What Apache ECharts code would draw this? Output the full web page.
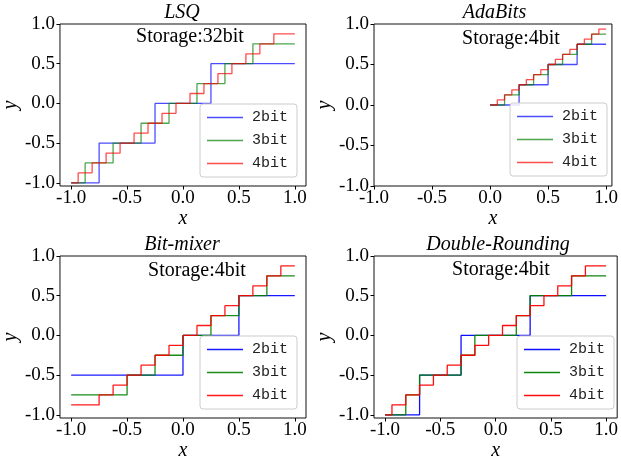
<!DOCTYPE html>
<html lang="en">
  <head>
    <meta charset="UTF-8" />
    <title>Quantizer step functions</title>
    <script src="https://cdn.jsdelivr.net/npm/echarts@6/dist/echarts.min.js"></script>
    <style>
      html, body { margin: 0; padding: 0; background: #fff; }
    </style>
  </head>
  <body>
    <div id="chart" style="width: 621px; height: 464px"></div>
    <script>
      // tick labels and texts
      const xTicks = [-1, -0.5, 0, 0.5, 1]
      const yTicks = [-1, -0.5, 0, 0.5, 1]
      const titles = ['LSQ', 'AdaBits', 'Bit-mixer', 'Double-Rounding']
      const storageTexts = ['Storage:32bit', 'Storage:4bit', 'Storage:4bit', 'Storage:4bit']
      const bitNames = ['2bit', '3bit', '4bit']

      // LSQ
      const lsq2X = [-1, -0.75, -0.25, 0.25, 1]
      const lsq2Y = [-1, -0.5, 0, 0.5, 0.5]
      const lsq3X = [-1, -0.875, -0.625, -0.375, -0.125, 0.125, 0.375, 0.625, 1]
      const lsq3Y = [-1, -0.75, -0.5, -0.25, 0, 0.25, 0.5, 0.75, 0.75]
      const lsq4X = [-1, -0.9375, -0.8125, -0.6875, -0.5625, -0.4375, -0.3125, -0.1875, -0.0625,
        0.0625, 0.1875, 0.3125, 0.4375, 0.5625, 0.6875, 0.8125, 1]
      const lsq4Y = [-1, -0.875, -0.75, -0.625, -0.5, -0.375, -0.25, -0.125, 0,
        0.125, 0.25, 0.375, 0.5, 0.625, 0.75, 0.875, 0.875]

      // AdaBits
      const ada2X = [0, 0.25, 0.5, 0.75, 1]
      const ada2Y = [0, 0.25, 0.5, 0.75, 0.75]
      const ada3X = [0, 0.125, 0.25, 0.375, 0.5, 0.625, 0.75, 0.875, 1]
      const ada3Y = [0, 0.125, 0.25, 0.375, 0.5, 0.625, 0.75, 0.875, 0.875]
      const ada4X = [0, 0.0625, 0.125, 0.1875, 0.25, 0.3125, 0.375, 0.4375, 0.5,
        0.5625, 0.625, 0.6875, 0.75, 0.8125, 0.875, 0.9375, 1]
      const ada4Y = [0, 0.0625, 0.125, 0.1875, 0.25, 0.3125, 0.375, 0.4375, 0.5,
        0.5625, 0.625, 0.6875, 0.75, 0.8125, 0.875, 0.9375, 0.9375]

      // Bit-mixer
      const mix2X = [-1, 0, 0.5, 1]
      const mix2Y = [-0.5, 0, 0.5, 0.5]
      const mix3X = [-1, -0.5, -0.25, 0, 0.25, 0.5, 0.75, 1]
      const mix3Y = [-0.75, -0.5, -0.25, 0, 0.25, 0.5, 0.75, 0.75]
      const mix4X = [-1, -0.75, -0.625, -0.5, -0.375, -0.25, -0.125, 0,
        0.125, 0.25, 0.375, 0.5, 0.625, 0.75, 0.875, 1]
      const mix4Y = [-0.875, -0.75, -0.625, -0.5, -0.375, -0.25, -0.125, 0,
        0.125, 0.25, 0.375, 0.5, 0.625, 0.75, 0.875, 0.875]

      // Double-Rounding
      const dr2X = [-1, -0.6875, -0.3125, 0.3125, 1]
      const dr2Y = [-1, -0.5, 0, 0.5, 0.5]
      const dr3X = [-1, -0.8125, -0.6875, -0.3125, -0.1875, 0.1875, 0.3125, 0.6875, 1]
      const dr3Y = [-1, -0.75, -0.5, -0.25, 0, 0.25, 0.5, 0.75, 0.75]
      const dr4X = [-1, -0.9375, -0.8125, -0.6875, -0.5625, -0.4375, -0.3125, -0.1875, -0.0625,
        0.0625, 0.1875, 0.3125, 0.4375, 0.5625, 0.6875, 0.8125, 1]
      const dr4Y = [-1, -0.875, -0.75, -0.625, -0.5, -0.375, -0.25, -0.125, 0,
        0.125, 0.25, 0.375, 0.5, 0.625, 0.75, 0.875, 0.875]

      const panels = [
        [[lsq2X, lsq2Y], [lsq3X, lsq3Y], [lsq4X, lsq4Y]],
        [[ada2X, ada2Y], [ada3X, ada3Y], [ada4X, ada4Y]],
        [[mix2X, mix2Y], [mix3X, mix3Y], [mix4X, mix4Y]],
        [[dr2X, dr2Y], [dr3X, dr3Y], [dr4X, dr4Y]],
      ]

      const colors = ['#0000ff', '#008000', '#ff0000']
      const serif = 'Liberation Serif'

      // layout of the 4 axes
      const grids = [
        { left: 58, top: 24, width: 248, height: 162 },
        { left: 374, top: 24, width: 241, height: 162 },
        { left: 58, top: 256, width: 248, height: 162 },
        { left: 374, top: 256, width: 248, height: 162 },
      ]
      const xLims = [[-1.1, 1.1], [-1.0, 1.05], [-1.1, 1.1], [-1.1, 1.1]]
      const yLims = [[-1.04, 1.0], [-1.0, 1.0], [-1.04, 1.0], [-1.04, 1.0]]
      const alphas = [0.7, 0.7, 0.9, 0.95]
      const storagePos = [[190, 27], [511, 29], [197, 261], [501, 260]]
      const legendPos = [[200, 104], [510, 103], [200, 336], [517, 336]]

      const chart = echarts.init(document.getElementById('chart'))

      const tickFont = { fontFamily: serif, fontSize: 19, color: '#000' }
      const nameFont = { fontFamily: serif, fontStyle: 'italic', fontSize: 20, color: '#000' }

      const option = {
        animation: false,
        title: [],
        grid: grids.map(g => ({
          ...g,
          show: true,
          borderColor: '#111',
          borderWidth: 1,
          backgroundColor: 'transparent',
        })),
        xAxis: grids.map((g, i) => ({
          type: 'value',
          gridIndex: i,
          min: xLims[i][0],
          max: xLims[i][1],
          name: 'x',
          nameLocation: 'middle',
          nameGap: 21,
          nameTextStyle: nameFont,
          splitLine: { show: false },
          axisLine: { show: false, onZero: false },
          axisTick: { show: true, customValues: xTicks, length: 3.5, lineStyle: { color: '#000' } },
          axisLabel: { customValues: xTicks, margin: 3, formatter: v => v.toFixed(1), ...tickFont },
        })),
        yAxis: grids.map((g, i) => ({
          type: 'value',
          gridIndex: i,
          min: yLims[i][0],
          max: yLims[i][1],
          name: 'y',
          nameLocation: 'middle',
          nameGap: 38,
          nameTextStyle: nameFont,
          splitLine: { show: false },
          axisLine: { show: false, onZero: false },
          axisTick: { show: true, customValues: yTicks, length: 3.5, lineStyle: { color: '#000' } },
          axisLabel: { customValues: yTicks, margin: 5, formatter: v => v.toFixed(1), ...tickFont },
        })),
        legend: legendPos.map((p, i) => ({
          left: p[0],
          top: p[1],
          orient: 'vertical',
          data: bitNames,
          selectedMode: false,
          icon: 'rect',
          itemWidth: 36,
          itemHeight: 1.5,
          itemGap: 8,
          itemStyle: { opacity: alphas[i] },
          padding: [6, 9, 6, 7],
          borderColor: '#cccccc',
          borderWidth: 1,
          borderRadius: 3,
          backgroundColor: 'rgba(255,255,255,0.85)',
          textStyle: {
            fontFamily: 'Liberation Mono',
            fontSize: 15,
            lineHeight: 15,
            color: '#222',
            padding: [0, 0, 0, 4],
          },
        })),
        series: [],
      }

      grids.forEach((g, i) => {
        // subplot title
        option.title.push({
          text: titles[i],
          left: g.left + g.width / 2,
          top: i < 2 ? 3 : 235,
          textAlign: 'center',
          padding: 0,
          textStyle: { fontFamily: serif, fontStyle: 'italic', fontWeight: 'normal', fontSize: 20, color: '#000' },
        })
        // storage note
        option.title.push({
          text: storageTexts[i],
          left: storagePos[i][0],
          top: storagePos[i][1],
          textAlign: 'center',
          padding: 0,
          textStyle: { fontFamily: serif, fontWeight: 'normal', fontSize: 20, color: '#000' },
        })
        panels[i].forEach((line, b) => {
          option.series.push({
            type: 'line',
            name: bitNames[b],
            xAxisIndex: i,
            yAxisIndex: i,
            step: 'end',
            symbol: 'none',
            color: colors[b],
            lineStyle: { width: 1.3, color: colors[b], opacity: alphas[i] },
            data: line[0].map((x, k) => [x, line[1][k]]),
          })
        })
      })

      chart.setOption(option)
    </script>
  </body>
</html>
